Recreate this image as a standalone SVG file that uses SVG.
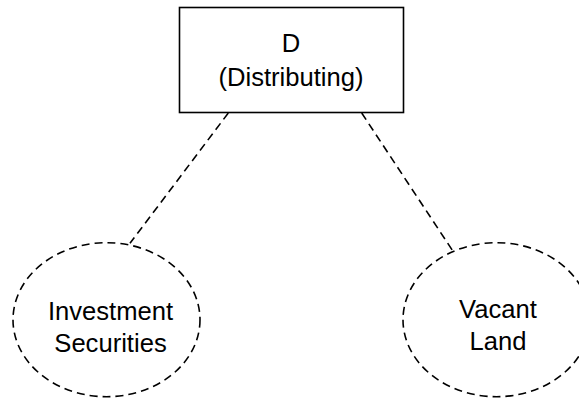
<svg xmlns="http://www.w3.org/2000/svg" width="579" height="399" viewBox="0 0 579 399">
<style>
.lbl{font-family:"Liberation Sans",Arial,sans-serif;font-size:25.6px;fill:#000;text-anchor:middle}
.dash{fill:none;stroke:#000;stroke-width:1.6;stroke-dasharray:8 5}
</style>
<rect width="579" height="399" fill="#fff"/>
<g id="connectors">
<line class="dash" x1="228.3" y1="113" x2="130" y2="243.3"/>
<line class="dash" x1="361.7" y1="113" x2="453.3" y2="251.7"/>
</g>
<g id="node-d">
<rect x="179.5" y="7.5" width="224" height="105" fill="#fff" stroke="#000" stroke-width="1.6"/>
<text class="lbl" x="291" y="51.7">D</text>
<text class="lbl" x="291" y="85.5">(Distributing)</text>
</g>
<g id="node-investment">
<ellipse class="dash" cx="106.5" cy="319.7" rx="93.5" ry="77"/>
<text class="lbl" x="110.5" y="320">Investment</text>
<text class="lbl" x="110.5" y="351.5">Securities</text>
</g>
<g id="node-vacant">
<ellipse class="dash" cx="496.5" cy="319.7" rx="93.5" ry="77"/>
<text class="lbl" x="498" y="318">Vacant</text>
<text class="lbl" x="498" y="350">Land</text>
</g>
</svg>
